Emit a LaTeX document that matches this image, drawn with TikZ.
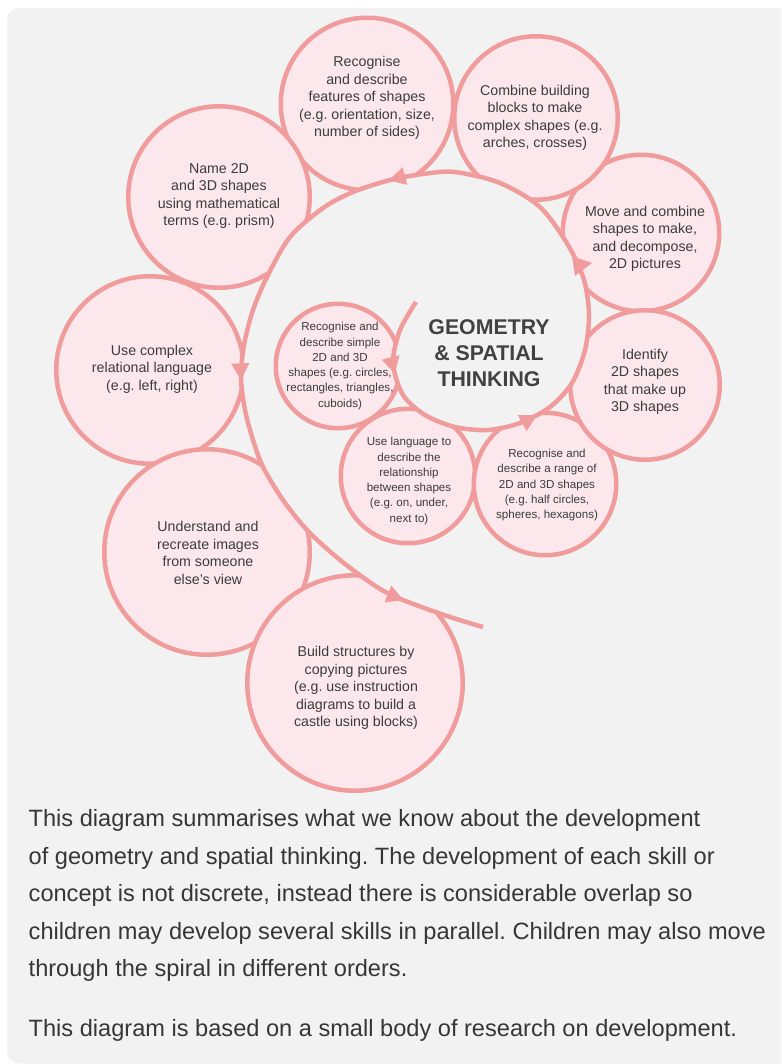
\documentclass[tikz,border=0pt]{standalone}
\usepackage{fontspec}
\setmainfont{Liberation Sans}
\usetikzlibrary{arrows.meta,decorations.markings}
\definecolor{bgpanel}{HTML}{F2F2F2}
\definecolor{ringline}{HTML}{F09C9C}
\definecolor{ringfill}{HTML}{FCE8EC}
\definecolor{txtgray}{HTML}{3C3C3C}
\definecolor{titlegray}{HTML}{414141}
\definecolor{paragray}{HTML}{363636}
\frenchspacing
\tikzset{
  ring/.style={circle, draw=ringline, fill=ringfill, line width=4.5pt, inner sep=0pt},
  txt/.style={align=center, text=txtgray, inner sep=0pt, font=\fontsize{14.2}{17.5}\selectfont},
  smalltxt/.style={align=center, text=txtgray, inner sep=0pt, font=\fontsize{11.6}{15.3}\selectfont},
  titletxt/.style={align=center, text=titlegray, inner sep=0pt, font=\fontsize{21.3}{26}\selectfont\bfseries},
  paratxt/.style={anchor=base west, text=paragray, inner sep=0pt, font=\fontsize{23.6}{37.5}\selectfont},
  spiralline/.style={draw=ringline, line width=4.5pt, line cap=butt},
  gapfill/.style={fill=bgpanel, draw=none},
  sptip/.tip={Triangle[length=17pt,width=17pt]}
}
\begin{document}
\begin{tikzpicture}[x=1pt,y=-1pt]
\useasboundingbox (0,0) rectangle (781,1064);
\clip (0,0) rectangle (781,1064);
\fill[bgpanel, rounded corners=12pt] (7,8) rectangle (830,1063.5);

% outer circles
\node[ring, minimum size=156.5pt] (move) at (641,233) {};
\node[ring, minimum size=163.5pt] (combine) at (536,118) {};
\node[ring, minimum size=172.5pt] (features) at (367,104) {};
\node[ring, minimum size=181.5pt] (name) at (219,197) {};
\node[ring, minimum size=187.5pt] (complex) at (150,370) {};
\node[ring, minimum size=205.5pt] (understand) at (207,552) {};
\node[ring, minimum size=215.5pt] (build) at (355,683) {};

% interior of the outer spiral
\path[gapfill] plot[smooth] coordinates {(589,315) (584,280) (568,245) (540,207) (500,183) (455,172) (423,174) (390,180) (353,192) (323,208) (290,237) (267,277) (253,310) (244,345) (241,378) (245,410) (253,440) (263,467) (283,500) (307,530) (340,560) (377,587) (403,600) (450,617) (483,627)} -- cycle;

% inner circles
\node[ring, minimum size=124.5pt] (simple) at (338,366) {};
\node[ring, minimum size=134.5pt] (language) at (408,476) {};
\node[ring, minimum size=142.5pt] (range) at (545,484) {};
\node[ring, minimum size=149.5pt] (identify) at (645,385) {};

% centre disc
\path[gapfill] plot[smooth] coordinates {(416,302) (400,330) (393,363) (403,395) (425,415) (455,427) (488,430) (520,423) (550,407) (572,383) (585,350) (589,315) (584,280) (568,245)} -- cycle;

% spiral
\draw[spiralline, postaction={decorate}, decoration={markings,
  mark=at position 0.060 with {\arrow{sptip}},
  mark=at position 0.192 with {\arrow{sptip}},
  mark=at position 0.503 with {\arrow{sptip}},
  mark=at position 0.712 with {\arrow{sptip}},
  mark=at position 0.935 with {\arrow{sptip}}}]
  plot[smooth] coordinates {(416,302) (400,330) (393,363) (403,395) (425,415) (455,427) (488,430) (520,423) (550,407) (572,383) (585,350) (589,315) (584,280) (568,245) (540,207) (500,183) (455,172) (423,174) (390,180) (353,192) (323,208) (290,237) (267,277) (253,310) (244,345) (241,378) (245,410) (253,440) (263,467) (283,500) (307,530) (340,560) (377,587) (403,600) (450,617) (483,627)};
\fill[ringline] (572,256) -- (592,263) -- (575,276) -- cycle;

% texts
\node[txt] (tfeatures) at (367,98) {Recognise\\and describe\\features of shapes\\(e.g. orientation, size,\\number of sides)};
\node[txt] (tcombine) at (535,118) {Combine building\\blocks to make\\complex shapes (e.g.\\arches, crosses)};
\node[txt] (tmove) at (645,239) {Move and combine\\shapes to make,\\and decompose,\\2D pictures};
\node[txt] (tidentify) at (645,382) {Identify\\2D shapes\\that make up\\3D shapes};
\node[smalltxt] (trange) at (547,485) {Recognise and\\describe a range of\\2D and 3D shapes\\(e.g. half circles,\\spheres, hexagons)};
\node[smalltxt] (tlanguage) at (409,481) {Use language to\\describe the\\relationship\\between shapes\\(e.g. on, under,\\next to)};
\node[smalltxt] (tsimple) at (340,366) {Recognise and\\describe simple\\2D and 3D\\shapes (e.g. circles,\\rectangles, triangles,\\cuboids)};
\node[txt] (tname) at (219,196) {Name 2D\\and 3D shapes\\using mathematical\\terms (e.g. prism)};
\node[txt] (tcomplex) at (152,369) {Use complex\\relational language\\(e.g. left, right)};
\node[txt] (tunderstand) at (208,553) {Understand and\\recreate images\\from someone\\else's view};
\node[txt] (tbuild) at (356,688) {Build structures by\\copying pictures\\(e.g. use instruction\\diagrams to build a\\castle using blocks)};
\node[titletxt] (title) at (489,353) {GEOMETRY\\\&{} SPATIAL\\THINKING};

\node[paratxt] (p1) at (28.5,826.7) {This diagram summarises what we know about the development};
\node[paratxt] (p2) at (28.5,864) {of geometry and spatial thinking. The development of each skill or};
\node[paratxt] (p3) at (28.5,901.7) {concept is not discrete, instead there is considerable overlap so};
\node[paratxt] (p4) at (28.5,939) {children may develop several skills in parallel. Children may also move};
\node[paratxt] (p5) at (28.5,976.7) {through the spiral in different orders.};
\node[paratxt] (p6) at (28.5,1036.7) {This diagram is based on a small body of research on development.};
\end{tikzpicture}
\end{document}
